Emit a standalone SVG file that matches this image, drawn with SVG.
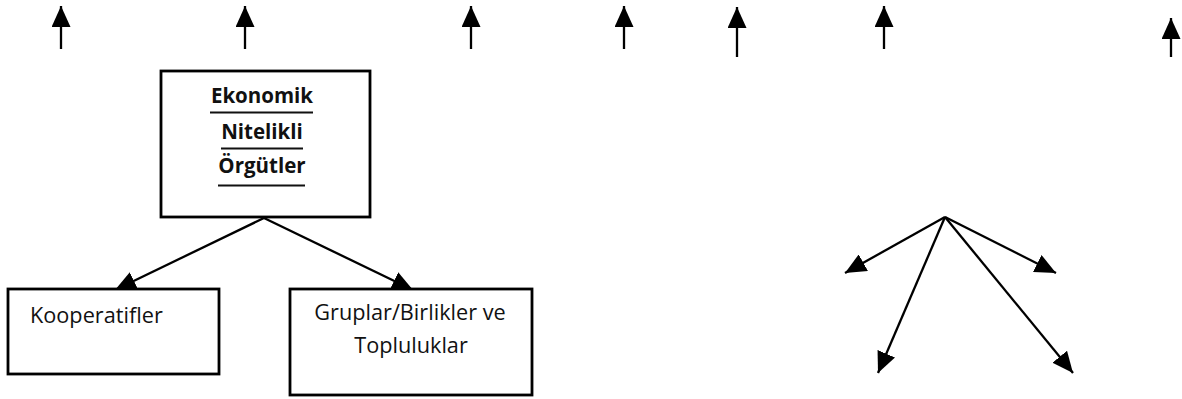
<svg xmlns="http://www.w3.org/2000/svg" width="1182" height="399" viewBox="0 0 1182 399">
  <defs>
    <style>
      .box { fill: #ffffff; stroke: #000000; stroke-width: 2.8; }
      .title { font-family: "Open Sans", "Liberation Sans", sans-serif; font-weight: bold; font-size: 20.5px; fill: #111111; text-anchor: middle; }
      .label { font-family: "Open Sans", "Liberation Sans", sans-serif; font-size: 21.7px; fill: #111111; }
      .ul { stroke: #111111; stroke-width: 2.2; }
      .conn { stroke: #000000; stroke-width: 2.3; fill: none; marker-end: url(#head); }
    </style>
    <marker id="head" markerUnits="userSpaceOnUse" markerWidth="21" markerHeight="19" refX="21" refY="9.5" orient="auto" viewBox="0 0 21 19">
      <path d="M0,0 L21,9.5 L0,19 z" fill="#000000"/>
    </marker>
  </defs>
  <rect width="1182" height="399" fill="#ffffff"/>

  <g id="connectors">
    <line class="conn" x1="61" y1="49" x2="61" y2="6"/>
    <line class="conn" x1="245" y1="49" x2="245" y2="6"/>
    <line class="conn" x1="471" y1="49" x2="471" y2="6"/>
    <line class="conn" x1="624" y1="49" x2="624" y2="6"/>
    <line class="conn" x1="737" y1="57" x2="737" y2="7"/>
    <line class="conn" x1="884" y1="49" x2="884" y2="6"/>
    <line class="conn" x1="1171" y1="57" x2="1171" y2="18"/>
    <line class="conn" x1="264" y1="218" x2="115" y2="290"/>
    <line class="conn" x1="264" y1="218" x2="413" y2="290"/>
    <line class="conn" x1="945" y1="217" x2="845" y2="273"/>
    <line class="conn" x1="945" y1="217" x2="878" y2="373"/>
    <line class="conn" x1="945" y1="217" x2="1073" y2="373"/>
    <line class="conn" x1="945" y1="217" x2="1056" y2="273"/>
  </g>

  <g id="node-ekonomik">
    <rect class="box" x="161" y="71" width="209" height="146"/>
    <text class="title" x="262" y="103">Ekonomik</text>
    <line class="ul" x1="210" y1="112.5" x2="313" y2="112.5"/>
    <text class="title" x="262" y="139">Nitelikli</text>
    <line class="ul" x1="221" y1="148.5" x2="303" y2="148.5"/>
    <text class="title" x="262" y="173">Örgütler</text>
    <line class="ul" x1="218" y1="185.5" x2="305" y2="185.5"/>
  </g>

  <g id="node-kooperatifler">
    <rect class="box" x="8" y="289" width="211" height="85"/>
    <text class="label" x="30" y="323">Kooperatifler</text>
  </g>

  <g id="node-gruplar">
    <rect class="box" x="290" y="289" width="242" height="106"/>
    <text class="label" x="410" y="320" text-anchor="middle">Gruplar/Birlikler ve</text>
    <text class="label" x="411" y="353" text-anchor="middle">Topluluklar</text>
  </g>
</svg>
